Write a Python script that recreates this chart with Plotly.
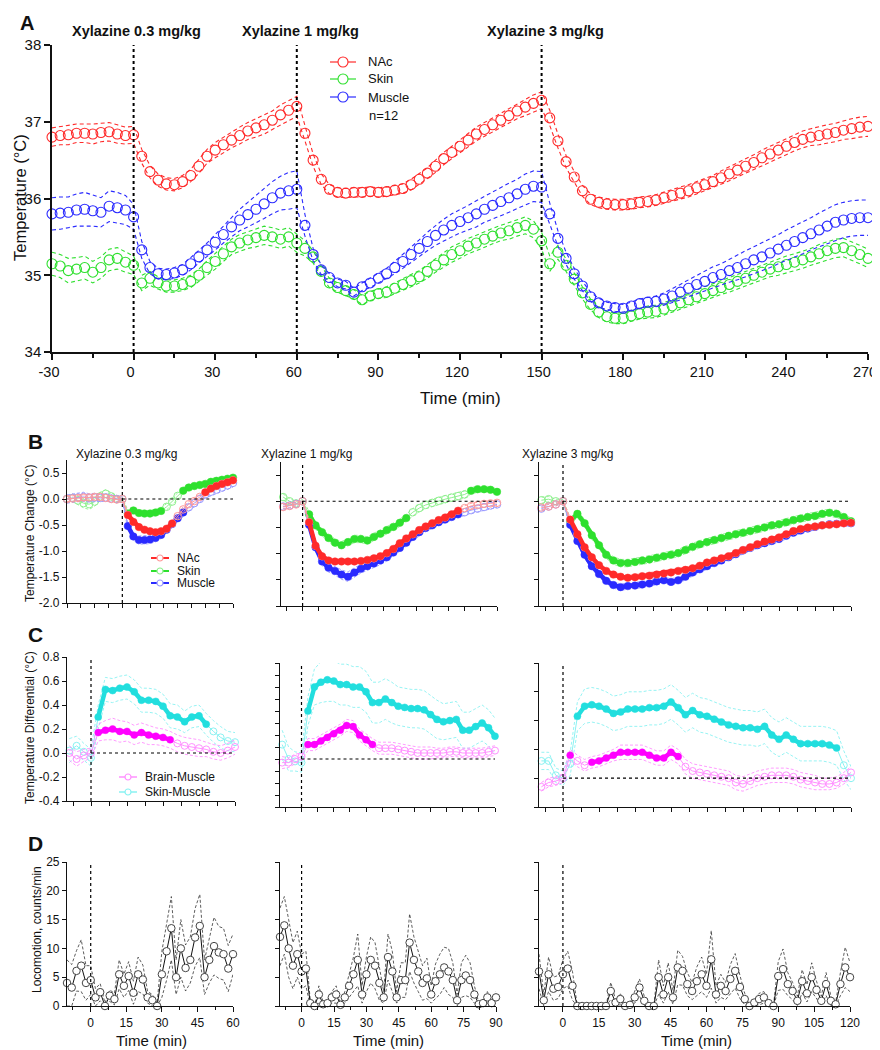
import plotly.graph_objects as go

# The page body adds an 8 px margin, so the figure starts 8 px inside the
# window; all pixel positions below are window pixels
# and are shifted by that offset. The figure is as large as the window, so its
# last 8 px (blank) fall outside the photographed area.
OFF = 8
W, H = 880, 1050
FONT = "Liberation Sans, Arial, Helvetica, sans-serif"

# ======================= DATA =======================
dose_labels = ["Xylazine 0.3 mg/kg", "Xylazine 1 mg/kg", "Xylazine 3 mg/kg"]
dose_times_a = [0, 60, 150]

# ---- Panel A: absolute temperatures (°C), every 3 min ----
a_time = list(range(-30, 271, 3))
a_nac = [36.80, 36.82, 36.83, 36.85, 36.85, 36.84, 36.86, 36.87, 36.84, 36.82, 36.83,
         36.55, 36.35, 36.24, 36.19, 36.18, 36.22, 36.30, 36.42, 36.55, 36.63,
         36.70, 36.76, 36.82, 36.88, 36.92, 36.96, 37.02, 37.09, 37.15, 37.20,
         36.85, 36.50, 36.25, 36.12, 36.08, 36.07, 36.08, 36.08, 36.09, 36.08,
         36.09, 36.11, 36.13, 36.18, 36.25, 36.33, 36.42, 36.52, 36.60, 36.68,
         36.76, 36.84, 36.90, 36.96, 37.02, 37.08, 37.14, 37.19, 37.24, 37.28,
         37.05, 36.75, 36.48, 36.28, 36.10, 35.99, 35.95, 35.93, 35.92, 35.92,
         35.93, 35.95, 35.96, 35.98, 36.01, 36.04, 36.07, 36.10, 36.14, 36.18,
         36.22, 36.27, 36.32, 36.37, 36.42, 36.47, 36.53, 36.58, 36.63, 36.68,
         36.73, 36.77, 36.80, 36.82, 36.84, 36.86, 36.89, 36.91, 36.93, 36.94]
a_muscle = [35.80, 35.81, 35.82, 35.85, 35.86, 35.84, 35.82, 35.90, 35.88, 35.85, 35.76,
            35.33, 35.10, 35.02, 35.01, 35.03, 35.07, 35.15, 35.24, 35.33, 35.43,
            35.53, 35.63, 35.72, 35.79, 35.86, 35.93, 36.01, 36.07, 36.10, 36.12,
            35.65, 35.27, 35.07, 34.97, 34.90, 34.87, 34.78, 34.85, 34.90, 34.96,
            35.02, 35.10, 35.18, 35.27, 35.35, 35.44, 35.52, 35.59, 35.65, 35.70,
            35.75, 35.80, 35.86, 35.91, 35.96, 36.01, 36.06, 36.12, 36.16, 36.15,
            35.80, 35.48, 35.22, 35.02, 34.86, 34.72, 34.64, 34.60, 34.58, 34.57,
            34.60, 34.63, 34.65, 34.66, 34.69, 34.73, 34.78, 34.83, 34.88, 34.92,
            34.97, 35.01, 35.06, 35.10, 35.15, 35.20, 35.24, 35.29, 35.34, 35.39,
            35.44, 35.49, 35.54, 35.59, 35.64, 35.69, 35.72, 35.74, 35.75, 35.75]
a_skin = [35.15, 35.12, 35.06, 35.08, 35.10, 35.04, 35.10, 35.20, 35.22, 35.17, 35.13,
          34.90, 34.96, 34.90, 34.86, 34.86, 34.88, 34.92, 35.00, 35.10, 35.18,
          35.28, 35.37, 35.42, 35.46, 35.49, 35.52, 35.50, 35.47, 35.50, 35.42,
          35.35, 35.24, 35.05, 34.90, 34.84, 34.80, 34.75, 34.68, 34.73, 34.76,
          34.78, 34.83, 34.88, 34.93, 34.98, 35.05, 35.13, 35.20, 35.27, 35.32,
          35.38, 35.42, 35.47, 35.51, 35.55, 35.58, 35.62, 35.65, 35.60, 35.45,
          35.15, 35.30, 35.13, 34.95, 34.77, 34.62, 34.52, 34.46, 34.44, 34.44,
          34.47, 34.50, 34.52, 34.53, 34.56, 34.60, 34.64, 34.68, 34.72, 34.76,
          34.80, 34.84, 34.88, 34.92, 34.96, 35.00, 35.04, 35.08, 35.11, 35.14,
          35.17, 35.20, 35.24, 35.28, 35.32, 35.35, 35.36, 35.32, 35.27, 35.22]
a_nac_sem = [0.12, 0.12, 0.13, 0.12, 0.12, 0.13, 0.12, 0.12, 0.12, 0.11, 0.11,
             0.09, 0.08, 0.08, 0.08, 0.08, 0.08, 0.08, 0.09, 0.09, 0.10,
             0.10, 0.10, 0.11, 0.11, 0.12, 0.12, 0.12, 0.13, 0.13, 0.13,
             0.10, 0.08, 0.07, 0.06, 0.06, 0.06, 0.06, 0.06, 0.06, 0.06,
             0.06, 0.06, 0.06, 0.07, 0.07, 0.07, 0.08, 0.08, 0.08, 0.08,
             0.08, 0.09, 0.09, 0.09, 0.10, 0.10, 0.10, 0.11, 0.11, 0.11,
             0.10, 0.09, 0.08, 0.07, 0.07, 0.07, 0.07, 0.07, 0.07, 0.07,
             0.07, 0.07, 0.07, 0.07, 0.07, 0.07, 0.08, 0.08, 0.08, 0.08,
             0.08, 0.09, 0.09, 0.09, 0.09, 0.10, 0.10, 0.10, 0.10, 0.11,
             0.11, 0.11, 0.11, 0.12, 0.12, 0.12, 0.12, 0.13, 0.13, 0.13]
a_muscle_sem = [0.21, 0.21, 0.20, 0.21, 0.22, 0.20, 0.19, 0.20, 0.20, 0.19, 0.16,
                0.11, 0.08, 0.07, 0.07, 0.07, 0.07, 0.08, 0.08, 0.09, 0.10,
                0.11, 0.13, 0.14, 0.16, 0.18, 0.19, 0.21, 0.22, 0.24, 0.24,
                0.14, 0.08, 0.06, 0.05, 0.05, 0.05, 0.05, 0.05, 0.06, 0.06,
                0.07, 0.08, 0.09, 0.10, 0.11, 0.12, 0.13, 0.14, 0.15, 0.15,
                0.16, 0.17, 0.17, 0.18, 0.18, 0.19, 0.19, 0.20, 0.20, 0.20,
                0.14, 0.10, 0.08, 0.07, 0.06, 0.06, 0.06, 0.05, 0.05, 0.05,
                0.05, 0.06, 0.06, 0.07, 0.08, 0.09, 0.10, 0.11, 0.12, 0.13,
                0.14, 0.14, 0.15, 0.16, 0.17, 0.17, 0.18, 0.19, 0.19, 0.20,
                0.20, 0.21, 0.21, 0.22, 0.22, 0.23, 0.23, 0.23, 0.23, 0.23]
a_skin_sem = [0.15, 0.15, 0.16, 0.15, 0.15, 0.14, 0.14, 0.14, 0.14, 0.13, 0.12,
              0.10, 0.09, 0.08, 0.08, 0.08, 0.08, 0.08, 0.08, 0.09, 0.10,
              0.10, 0.10, 0.11, 0.11, 0.12, 0.12, 0.12, 0.12, 0.12, 0.12,
              0.10, 0.08, 0.07, 0.06, 0.06, 0.06, 0.06, 0.06, 0.06, 0.06,
              0.07, 0.07, 0.08, 0.08, 0.08, 0.09, 0.09, 0.09, 0.10, 0.10,
              0.10, 0.10, 0.10, 0.10, 0.10, 0.11, 0.11, 0.11, 0.11, 0.11,
              0.10, 0.09, 0.08, 0.08, 0.08, 0.07, 0.07, 0.07, 0.07, 0.07,
              0.07, 0.07, 0.08, 0.08, 0.08, 0.08, 0.08, 0.09, 0.09, 0.09,
              0.09, 0.09, 0.10, 0.10, 0.10, 0.10, 0.10, 0.10, 0.11, 0.11,
              0.11, 0.11, 0.11, 0.12, 0.12, 0.12, 0.12, 0.12, 0.12, 0.12]

# ---- Panel B: temperature change (°C) ----
b1_time = list(range(-30, 61, 3))
b1_nac = [0.00, 0.01, 0.02, 0.03, 0.03, 0.04, 0.04, 0.02, 0.00, -0.01, 0.00,
          -0.31, -0.44, -0.54, -0.59, -0.62, -0.64, -0.62, -0.57, -0.47, -0.33,
          -0.20, -0.10, -0.04, 0.04, 0.13, 0.20, 0.25, 0.29, 0.32, 0.36]
b1_nac_sem = [0.05, 0.05, 0.06, 0.05, 0.05, 0.05, 0.05, 0.05, 0.04, 0.04, 0.03,
              0.04, 0.04, 0.05, 0.05, 0.05, 0.05, 0.05, 0.05, 0.05, 0.05,
              0.05, 0.05, 0.05, 0.05, 0.06, 0.06, 0.06, 0.06, 0.06, 0.06]
b1_mus = [0.00, 0.02, 0.03, 0.04, 0.02, 0.03, 0.02, 0.03, 0.01, 0.00, 0.00,
          -0.52, -0.72, -0.79, -0.79, -0.78, -0.75, -0.69, -0.59, -0.48, -0.37,
          -0.26, -0.16, -0.08, 0.00, 0.09, 0.14, 0.18, 0.22, 0.26, 0.31]
b1_mus_sem = [0.08, 0.08, 0.08, 0.09, 0.08, 0.08, 0.07, 0.07, 0.06, 0.05, 0.04,
              0.06, 0.07, 0.08, 0.08, 0.08, 0.07, 0.07, 0.07, 0.07, 0.07,
              0.07, 0.07, 0.07, 0.07, 0.07, 0.08, 0.08, 0.08, 0.08, 0.08]
b1_skin = [0.00, 0.02, -0.03, -0.08, -0.10, -0.05, 0.05, 0.10, 0.05, 0.00, 0.00,
           -0.28, -0.22, -0.27, -0.28, -0.28, -0.26, -0.23, -0.15, -0.05, 0.06,
           0.16, 0.22, 0.25, 0.27, 0.29, 0.33, 0.35, 0.37, 0.39, 0.41]
b1_skin_sem = [0.06, 0.07, 0.08, 0.09, 0.10, 0.09, 0.08, 0.08, 0.07, 0.05, 0.04,
               0.06, 0.06, 0.06, 0.06, 0.06, 0.06, 0.06, 0.06, 0.06, 0.06,
               0.06, 0.06, 0.06, 0.06, 0.06, 0.06, 0.06, 0.06, 0.06, 0.06]
b1_sig = {"nac": [(3, 27), (45, 60)], "mus": [(3, 33)], "skin": [(3, 21), (33, 60)]}

b2_time = list(range(-9, 91, 3))
b2_nac = [-0.11, -0.09, -0.06, 0.00,
          -0.40, -0.85, -1.05, -1.13, -1.15, -1.15, -1.15, -1.15, -1.14, -1.12,
          -1.09, -1.05, -0.99, -0.91, -0.80, -0.71, -0.63, -0.55, -0.48, -0.42,
          -0.36, -0.31, -0.25, -0.18, -0.13, -0.09, -0.07, -0.05, -0.04, -0.03]
b2_nac_sem = [0.04, 0.04, 0.03, 0.02,
              0.05, 0.05, 0.05, 0.05, 0.05, 0.05, 0.05, 0.05, 0.05, 0.05,
              0.05, 0.05, 0.05, 0.05, 0.05, 0.05, 0.05, 0.05, 0.05, 0.05,
              0.05, 0.05, 0.05, 0.05, 0.05, 0.05, 0.05, 0.05, 0.05, 0.05]
b2_mus = [-0.10, -0.08, -0.05, 0.00,
          -0.45, -0.88, -1.15, -1.27, -1.33, -1.40, -1.44, -1.36, -1.29, -1.24,
          -1.19, -1.13, -1.07, -0.98, -0.89, -0.79, -0.68, -0.59, -0.51, -0.46,
          -0.40, -0.35, -0.30, -0.25, -0.21, -0.17, -0.14, -0.11, -0.08, -0.06]
b2_mus_sem = [0.04, 0.04, 0.03, 0.02,
              0.06, 0.07, 0.08, 0.08, 0.08, 0.09, 0.09, 0.09, 0.08, 0.08,
              0.08, 0.08, 0.07, 0.07, 0.07, 0.07, 0.07, 0.07, 0.07, 0.06,
              0.06, 0.06, 0.06, 0.06, 0.06, 0.06, 0.06, 0.06, 0.06, 0.06]
b2_skin = [0.08, 0.00, -0.04, 0.00,
           -0.25, -0.46, -0.59, -0.70, -0.79, -0.84, -0.78, -0.72, -0.72, -0.75,
           -0.68, -0.62, -0.55, -0.49, -0.41, -0.32, -0.21, -0.13, -0.07, -0.03,
           0.01, 0.04, 0.07, 0.10, 0.13, 0.20, 0.23, 0.23, 0.22, 0.18]
b2_skin_sem = [0.06, 0.05, 0.04, 0.03,
               0.06, 0.07, 0.07, 0.07, 0.07, 0.07, 0.07, 0.07, 0.07, 0.07,
               0.07, 0.07, 0.07, 0.07, 0.07, 0.07, 0.07, 0.07, 0.07, 0.07,
               0.07, 0.07, 0.07, 0.07, 0.07, 0.06, 0.06, 0.06, 0.06, 0.06]
b2_sig = {"nac": [(3, 72)], "mus": [(3, 72)], "skin": [(3, 48), (78, 90)]}

b3_time = list(range(-9, 121, 3))
b3_nac = [-0.12, -0.10, -0.06, 0.00,
          -0.35, -0.63, -0.88, -1.07, -1.22, -1.33, -1.40, -1.44, -1.46, -1.45,
          -1.43, -1.42, -1.40, -1.38, -1.36, -1.33, -1.31, -1.28, -1.23, -1.17,
          -1.13, -1.09, -1.05, -0.99, -0.93, -0.88, -0.82, -0.77, -0.73, -0.69,
          -0.63, -0.57, -0.53, -0.50, -0.48, -0.46, -0.45, -0.44, -0.42, -0.41]
b3_nac_sem = [0.04, 0.04, 0.03, 0.02,
              0.04, 0.05, 0.05, 0.05, 0.05, 0.05, 0.05, 0.05, 0.05, 0.05,
              0.05, 0.05, 0.05, 0.05, 0.05, 0.05, 0.05, 0.05, 0.05, 0.05,
              0.05, 0.05, 0.05, 0.05, 0.05, 0.05, 0.05, 0.05, 0.05, 0.05,
              0.05, 0.05, 0.05, 0.05, 0.05, 0.05, 0.05, 0.05, 0.05, 0.05]
b3_mus = [-0.14, -0.10, -0.06, 0.00,
          -0.45, -0.76, -1.02, -1.24, -1.39, -1.52, -1.60, -1.64, -1.62, -1.61,
          -1.59, -1.57, -1.53, -1.51, -1.54, -1.51, -1.44, -1.36, -1.30, -1.24,
          -1.18, -1.13, -1.07, -1.01, -0.94, -0.89, -0.84, -0.80, -0.76, -0.72,
          -0.66, -0.60, -0.56, -0.52, -0.49, -0.46, -0.44, -0.43, -0.42, -0.42]
b3_mus_sem = [0.04, 0.04, 0.03, 0.02,
              0.05, 0.06, 0.06, 0.06, 0.06, 0.06, 0.06, 0.06, 0.06, 0.06,
              0.06, 0.06, 0.06, 0.06, 0.06, 0.06, 0.06, 0.06, 0.06, 0.06,
              0.06, 0.06, 0.06, 0.06, 0.06, 0.06, 0.06, 0.06, 0.06, 0.06,
              0.06, 0.06, 0.06, 0.06, 0.06, 0.05, 0.05, 0.05, 0.05, 0.05]
b3_skin = [0.02, 0.04, 0.00, 0.00,
           -0.38, -0.24, -0.42, -0.65, -0.84, -1.02, -1.13, -1.18, -1.18, -1.16,
           -1.13, -1.11, -1.08, -1.05, -1.02, -0.99, -0.93, -0.87, -0.82, -0.78,
           -0.74, -0.70, -0.66, -0.63, -0.60, -0.57, -0.53, -0.50, -0.46, -0.44,
           -0.40, -0.36, -0.33, -0.30, -0.28, -0.24, -0.22, -0.24, -0.30, -0.38]
b3_skin_sem = [0.06, 0.05, 0.04, 0.03,
               0.06, 0.07, 0.07, 0.07, 0.07, 0.07, 0.07, 0.07, 0.07, 0.07,
               0.07, 0.07, 0.07, 0.07, 0.07, 0.07, 0.07, 0.07, 0.07, 0.07,
               0.07, 0.07, 0.07, 0.07, 0.07, 0.07, 0.07, 0.07, 0.07, 0.07,
               0.07, 0.07, 0.07, 0.07, 0.07, 0.07, 0.07, 0.07, 0.06, 0.06]
b3_sig = {"nac": [(3, 120)], "mus": [(3, 120)], "skin": [(3, 120)]}

# ---- Panel C: temperature differentials (°C) ----
c1_time = list(range(-9, 61, 3))
c1_bm = [0.00, -0.05, -0.02, 0.00,
         0.17, 0.19, 0.20, 0.18, 0.18, 0.15, 0.17, 0.15, 0.14, 0.13,
         0.11, 0.08, 0.06, 0.05, 0.04, 0.03, 0.01, 0.00, 0.02, 0.05]
c1_bm_sem = [0.06, 0.06, 0.05, 0.04,
             0.07, 0.08, 0.09, 0.09, 0.08, 0.08, 0.08, 0.08, 0.07, 0.07,
             0.07, 0.07, 0.07, 0.07, 0.07, 0.06, 0.06, 0.06, 0.06, 0.06]
c1_sm = [0.02, 0.06, 0.01, -0.04,
         0.30, 0.53, 0.52, 0.54, 0.55, 0.51, 0.44, 0.44, 0.43, 0.39,
         0.31, 0.30, 0.26, 0.30, 0.31, 0.24, 0.18, 0.13, 0.10, 0.09]
c1_sm_sem = [0.10, 0.08, 0.07, 0.07,
             0.10, 0.10, 0.10, 0.10, 0.10, 0.10, 0.10, 0.10, 0.10, 0.10,
             0.10, 0.10, 0.09, 0.09, 0.09, 0.09, 0.09, 0.09, 0.08, 0.08]
c1_sig = {"bm": [(3, 33)], "sm": [(3, 48)]}

c2_time = list(range(-9, 91, 3))
c2_bm = [-0.03, -0.03, 0.00, 0.02,
         0.12, 0.12, 0.15, 0.18, 0.21, 0.24, 0.28, 0.27, 0.20, 0.16,
         0.12, 0.09, 0.09, 0.09, 0.08, 0.07, 0.06, 0.05, 0.05, 0.05,
         0.05, 0.05, 0.06, 0.06, 0.05, 0.05, 0.05, 0.05, 0.06, 0.07]
c2_bm_sem = [0.05, 0.04, 0.04, 0.03,
             0.05, 0.05, 0.05, 0.05, 0.05, 0.05, 0.05, 0.05, 0.05, 0.05,
             0.05, 0.05, 0.05, 0.05, 0.05, 0.05, 0.05, 0.05, 0.05, 0.05,
             0.04, 0.04, 0.04, 0.04, 0.04, 0.04, 0.04, 0.04, 0.04, 0.04]
c2_sm = [0.12, 0.00, -0.02, -0.03,
         0.40, 0.60, 0.64, 0.66, 0.65, 0.62, 0.62, 0.60, 0.60, 0.56,
         0.47, 0.47, 0.50, 0.47, 0.44, 0.43, 0.42, 0.42, 0.41, 0.37,
         0.33, 0.31, 0.32, 0.33, 0.24, 0.24, 0.27, 0.30, 0.26, 0.19]
c2_sm_sem = [0.12, 0.10, 0.08, 0.08,
             0.12, 0.15, 0.17, 0.18, 0.17, 0.17, 0.17, 0.17, 0.17, 0.17,
             0.17, 0.17, 0.17, 0.17, 0.16, 0.16, 0.16, 0.16, 0.16, 0.16,
             0.16, 0.15, 0.15, 0.15, 0.15, 0.15, 0.15, 0.15, 0.15, 0.15]
c2_sig = {"bm": [(3, 33)], "sm": [(3, 90)]}

c3_time = list(range(-9, 121, 3))
c3_bm = [-0.06, -0.03, -0.02, 0.00,
         0.16, 0.12, 0.09, 0.11, 0.12, 0.14, 0.16, 0.18, 0.18, 0.18,
         0.18, 0.16, 0.14, 0.14, 0.18, 0.15, 0.08, 0.05, 0.04, 0.03,
         0.02, 0.01, 0.00, -0.03, -0.04, -0.02, 0.00, 0.01, 0.02, 0.02,
         0.02, 0.01, -0.01, -0.02, -0.03, -0.04, -0.04, -0.03, 0.00, 0.04]
c3_bm_sem = [0.03, 0.03, 0.03, 0.03,
             0.04, 0.04, 0.04, 0.04, 0.04, 0.04, 0.04, 0.05, 0.05, 0.05,
             0.05, 0.05, 0.05, 0.05, 0.05, 0.05, 0.05, 0.05, 0.05, 0.05,
             0.05, 0.05, 0.05, 0.05, 0.05, 0.05, 0.05, 0.05, 0.05, 0.05,
             0.05, 0.05, 0.05, 0.05, 0.05, 0.04, 0.04, 0.04, 0.04, 0.04]
c3_sm = [0.12, 0.12, 0.02, 0.00,
         0.10, 0.43, 0.50, 0.51, 0.50, 0.48, 0.45, 0.46, 0.48, 0.48,
         0.48, 0.49, 0.49, 0.50, 0.53, 0.49, 0.44, 0.47, 0.44, 0.43,
         0.41, 0.39, 0.37, 0.36, 0.35, 0.35, 0.34, 0.36, 0.30, 0.27,
         0.30, 0.27, 0.24, 0.24, 0.24, 0.24, 0.23, 0.21, 0.09, 0.00]
c3_sm_sem = [0.06, 0.06, 0.05, 0.05,
             0.08, 0.10, 0.12, 0.12, 0.12, 0.12, 0.12, 0.12, 0.12, 0.12,
             0.12, 0.12, 0.12, 0.12, 0.12, 0.12, 0.12, 0.12, 0.12, 0.12,
             0.12, 0.12, 0.12, 0.12, 0.12, 0.12, 0.12, 0.12, 0.12, 0.12,
             0.12, 0.12, 0.12, 0.12, 0.12, 0.12, 0.12, 0.12, 0.10, 0.08]
c3_sig = {"bm": [(3, 3), (12, 48)], "sm": [(6, 114)]}

# ---- Panel D: locomotion (counts/min), every 2 min ----
d1_time = list(range(-10, 61, 2))
d1_mean = [4, 3.2, 6.1, 7, 4, 4.5, 1.5, 2.4, 0, 1.8,
           1.2, 5.5, 3.5, 5.2, 2.3, 5.5, 4.6, 1.5, 1, 0,
           5.5, 9.5, 13.5, 5, 10, 6.6, 8, 11.9, 13.9, 5,
           8, 10.4, 9.3, 9, 6.5, 9]
d1_sem = [4, 4, 3.5, 4.5, 3, 2.5, 1.5, 1.5, 0.5, 1,
          1, 2.5, 2, 2.5, 2, 3, 2.5, 1, 1, 0.5,
          4, 5, 5.5, 3, 5, 4, 4, 5, 5.5, 3,
          4, 5, 4.5, 4.5, 4, 3.5]
d2_time = list(range(-10, 91, 2))
d2_mean = [12, 14, 10, 7, 9, 6, 6.5, 0.5, 0, 2,
           0.3, 0.5, 1.5, 2, 0.2, 1.5, 3.5, 5.5, 8, 2,
           5.5, 8, 7, 4, 1.5, 8.5, 6, 1.5, 4.5, 4.5,
           11, 8, 6, 4, 4.8, 2, 4.3, 5.5, 6.7, 6,
           4.5, 1, 4.5, 5.3, 4.5, 2, 0.3, 0.5, 1.5, 0.5,
           1.5]
d2_sem = [5, 5, 5, 4, 4, 3, 3, 0.5, 0, 1.5,
          0.3, 0.5, 1, 1.5, 0.2, 1, 2, 3, 4.5, 1.5,
          3, 4, 4, 3, 1, 4, 3.5, 1, 3, 3,
          5, 4, 3.5, 3, 3.5, 1.5, 3, 3.5, 3.5, 4,
          3, 1, 3, 3.5, 3, 1.5, 0.3, 0.5, 1, 0.5,
          1]
d3_time = list(range(-10, 121, 2))
d3_mean = [6, 1, 5.5, 3, 3.3, 5.5, 6.5, 3.5, 0, 0,
           0, 0, 0, 0, 0, 2.6, 0.6, 1.2, 0, 0.2,
           1.5, 3.2, 0.9, 0, 0, 5, 2, 5, 1.5, 6.7,
           6.1, 3.8, 2.6, 4.3, 5.5, 3.5, 8.1, 2, 3.5, 2.6,
           4.7, 6.1, 3.3, 1.2, 0, 0.6, 1.2, 1.5, 0.5, 0,
           5.2, 6.4, 3.8, 2.6, 0.9, 4.3, 2.2, 5, 2.8, 0.9,
           3.8, 0.9, 0.3, 3.8, 6.7, 5]
d3_sem = [3, 1, 3, 2, 2, 2.5, 3, 2.5, 0, 0,
          0, 0, 0, 0, 0, 1.5, 0.5, 1, 0, 0.2,
          1, 1.5, 0.8, 0, 0, 3, 1.5, 2.5, 1.2, 3,
          2.5, 2, 1.5, 2.5, 3, 2, 5, 1.5, 2, 1.5,
          2.5, 3, 2, 1, 0, 0.5, 1, 1, 0.5, 0,
          2.5, 3.5, 2, 1.5, 0.8, 2, 1.5, 2.5, 1.5, 0.8,
          2, 0.8, 0.3, 2, 3.5, 2.5]

# tick labels
a_xticks = [-30, 0, 30, 60, 90, 120, 150, 180, 210, 240, 270]
a_yticks = [34, 35, 36, 37, 38]
b_yticks = [-2.0, -1.5, -1.0, -0.5, 0.0, 0.5]
b_yticktext = ["-2.0", "-1.5", "-1.0", "-0.5", "0.0", "0.5"]
c_yticks = [-0.4, -0.2, 0.0, 0.2, 0.4, 0.6, 0.8]
c_yticktext = ["-0.4", "-0.2", "0.0", "0.2", "0.4", "0.6", "0.8"]
d_yticks = [0, 5, 10, 15, 20, 25]
d_xticks = [[0, 15, 30, 45, 60], [0, 15, 30, 45, 60, 75, 90],
            [0, 15, 30, 45, 60, 75, 90, 105, 120]]

# ======================= STYLE / LAYOUT =======================
RED, GREEN, BLUE = "#ff2a2a", "#2ee02e", "#2a2aff"
RED_L, GREEN_L, BLUE_L = "#ff9a9a", "#8ef08e", "#9a9aff"
MAG, CYAN = "#ff00ff", "#22dede"
MAG_L, CYAN_L = "#ff90ff", "#8af2f2"
INK = "#111111"

# pixel boxes in window pixels (left, right, top, bottom)
BOX = {
    1: (52, 868, 45, 352),
    2: (67, 233, 460, 603), 3: (281, 497, 462, 606), 4: (539, 851, 462, 606),
    5: (67, 235, 657, 801), 6: (280, 495, 663, 807), 7: (539, 851, 663, 807),
    8: (67, 233, 862, 1006), 9: (280, 496, 862, 1006), 10: (539, 850, 862, 1006),
}


def fx(x):
    return (x - OFF) / W


def fy(y):
    return 1 - (y - OFF) / H


fig = go.Figure()
layout_axes = {}


def ids(i):
    return ("x" if i == 1 else f"x{i}"), ("y" if i == 1 else f"y{i}")


def keys(i):
    return ("xaxis" if i == 1 else f"xaxis{i}"), ("yaxis" if i == 1 else f"yaxis{i}")


def base_axis(fs=12, lw=1.2):
    return dict(showgrid=False, zeroline=False, showline=True, linecolor=INK,
                linewidth=lw, ticks="outside", tickcolor=INK, tickwidth=lw, ticklen=5,
                tickfont=dict(family=FONT, size=fs, color=INK), fixedrange=True,
                automargin=False, ticklabeloverflow="allow")


def make_axes(i, xr, yr, xopt, yopt, fs=12, lw=1.2):
    x0, x1, y0, y1 = BOX[i]
    xa, ya = ids(i)
    xk, yk = keys(i)
    xd = base_axis(fs, lw); xd.update(domain=[fx(x0), fx(x1)], range=xr, anchor=ya); xd.update(xopt)
    yd = base_axis(fs, lw); yd.update(domain=[fy(y1), fy(y0)], range=yr, anchor=xa); yd.update(yopt)
    layout_axes[xk] = xd
    layout_axes[yk] = yd


def frange(a, b, step):
    out, v = [], a
    while v <= b + 1e-9:
        out.append(round(v, 4))
        v += step
    return out


# Panel A axes
make_axes(1, [-30, 270], [34, 38],
          dict(tickvals=a_xticks, ticktext=[str(v) for v in a_xticks], ticklen=6,
               ticklabelshift=-3, tickfont=dict(family=FONT, size=14.5, color=INK),
               minor=dict(tickvals=frange(-15, 255, 30), ticklen=4, ticks="outside", tickcolor=INK, tickwidth=1.5)),
          dict(tickvals=a_yticks, ticklen=6), fs=15, lw=1.5)
# Panel B axes
b_ranges = {2: [-30, 60], 3: [-10, 90], 4: [-10, 120]}
for i, xr in b_ranges.items():
    make_axes(i, xr, [-2.0, 0.75],
              dict(tickvals=frange(xr[0], xr[1], 7.5) if i == 2 else frange(-7.5, xr[1], 7.5),
                   showticklabels=False, ticklen=4),
              dict(tickvals=b_yticks, ticktext=b_yticktext, showticklabels=(i == 2), ticklen=4))
# Panel C axes
c_ranges = {5: ([-10, 60], [-0.4, 0.8]), 6: ([-10, 90], [-0.4, 0.8]), 7: ([-10, 120], [-0.2, 0.8])}
for i, (xr, yr) in c_ranges.items():
    yt = c_yticks if i != 6 else frange(-0.4, 0.8, 0.1)
    make_axes(i, xr, yr,
              dict(tickvals=frange(-7.5, xr[1], 7.5), showticklabels=False, ticklen=4),
              dict(tickvals=[v for v in yt if v >= yr[0] - 1e-9],
                   ticktext=[c_yticktext[c_yticks.index(v)] if v in c_yticks else "" for v in yt if v >= yr[0] - 1e-9],
                   showticklabels=(i == 5), ticklen=4))
# Panel D axes
d_ranges = {8: [-10, 60], 9: [-10, 90], 10: [-10, 120]}
for k, (i, xr) in enumerate(d_ranges.items()):
    make_axes(i, xr, [0, 25],
              dict(tickvals=d_xticks[k], ticklen=5,
                   minor=dict(tickvals=frange(-7.5, xr[1], 7.5), ticklen=3, ticks="outside", tickcolor=INK)),
              dict(tickvals=d_yticks, showticklabels=(i == 8), ticklen=4))

# overlay axis in window-pixel space for legend glyphs
layout_axes["xaxis11"] = dict(domain=[0, 1], range=[OFF, W + OFF], visible=False, fixedrange=True, anchor="y11")
layout_axes["yaxis11"] = dict(domain=[0, 1], range=[H + OFF, OFF], visible=False, fixedrange=True, anchor="x11")


def band_traces(i, t, mean, sem, color, width, dash, clip0=False):
    xa, ya = ids(i)
    up = [m + s for m, s in zip(mean, sem)]
    lo = [max(m - s, 0) if clip0 else m - s for m, s in zip(mean, sem)]
    for band in (up, lo):
        fig.add_trace(go.Scatter(x=t, y=band, mode="lines", xaxis=xa, yaxis=ya,
                                 line=dict(color=color, width=width, dash=dash),
                                 showlegend=False, hoverinfo="skip", cliponaxis=False))


def sig_series(i, t, mean, sem, col, light, sig, size=7.5):
    xa, ya = ids(i)
    band_traces(i, t, mean, sem, light, 0.9, "3px,2px")
    mask = [any(a <= v <= b for a, b in sig) for v in t]
    fig.add_trace(go.Scatter(
        x=t, y=mean, mode="lines+markers", xaxis=xa, yaxis=ya,
        line=dict(color=light, width=1),
        marker=dict(size=size, symbol="circle", color="rgba(255,255,255,0)",
                    line=dict(color=light, width=1)),
        showlegend=False, hoverinfo="skip", cliponaxis=False))
    ysig = [m if s else None for m, s in zip(mean, mask)]
    fig.add_trace(go.Scatter(
        x=t, y=ysig, mode="lines+markers", xaxis=xa, yaxis=ya,
        line=dict(color=col, width=4.5), connectgaps=False,
        marker=dict(size=size, symbol="circle", color=col, line=dict(color=col, width=0)),
        showlegend=False, hoverinfo="skip", cliponaxis=False))


# ---- Panel A traces ----
for mean, sem, col in [(a_skin, a_skin_sem, GREEN), (a_muscle, a_muscle_sem, BLUE), (a_nac, a_nac_sem, RED)]:
    band_traces(1, a_time, mean, sem, col, 1.1, "4px,3px")
    fig.add_trace(go.Scatter(x=a_time, y=mean, mode="markers", xaxis="x", yaxis="y",
                             marker=dict(symbol="circle-open", size=10, color=col, line=dict(width=1.1)),
                             showlegend=False, hoverinfo="skip", cliponaxis=False))

# ---- Panel B traces ----
for i, t, nac, nacs, mus, muss, skin, skins, sig in [
        (2, b1_time, b1_nac, b1_nac_sem, b1_mus, b1_mus_sem, b1_skin, b1_skin_sem, b1_sig),
        (3, b2_time, b2_nac, b2_nac_sem, b2_mus, b2_mus_sem, b2_skin, b2_skin_sem, b2_sig),
        (4, b3_time, b3_nac, b3_nac_sem, b3_mus, b3_mus_sem, b3_skin, b3_skin_sem, b3_sig)]:
    sig_series(i, t, skin, skins, GREEN, GREEN_L, sig["skin"])
    sig_series(i, t, mus, muss, BLUE, BLUE_L, sig["mus"])
    sig_series(i, t, nac, nacs, RED, RED_L, sig["nac"])

# ---- Panel C traces ----
for i, t, bm, bms, sm, sms, sig in [
        (5, c1_time, c1_bm, c1_bm_sem, c1_sm, c1_sm_sem, c1_sig),
        (6, c2_time, c2_bm, c2_bm_sem, c2_sm, c2_sm_sem, c2_sig),
        (7, c3_time, c3_bm, c3_bm_sem, c3_sm, c3_sm_sem, c3_sig)]:
    sig_series(i, t, sm, sms, CYAN, CYAN_L, sig["sm"], size=7)
    sig_series(i, t, bm, bms, MAG, MAG_L, sig["bm"], size=7)

# ---- Panel D traces ----
for i, t, m, s in [(8, d1_time, d1_mean, d1_sem), (9, d2_time, d2_mean, d2_sem), (10, d3_time, d3_mean, d3_sem)]:
    xa, ya = ids(i)
    band_traces(i, t, m, s, "#333333", 0.8, "3px,2px", clip0=True)
    fig.add_trace(go.Scatter(x=t, y=m, mode="lines+markers", xaxis=xa, yaxis=ya,
                             line=dict(color="#111111", width=1),
                             marker=dict(size=7.5, color="white", line=dict(color="#444444", width=1)),
                             showlegend=False, hoverinfo="skip", cliponaxis=False))

# ---- reference lines ----
shapes = []
for t0 in dose_times_a:
    shapes.append(dict(type="line", xref="x", yref="y domain", x0=t0, x1=t0, y0=0, y1=1,
                       line=dict(color="black", width=2, dash="dot")))
for i in range(2, 11):
    xa, ya = ids(i)
    shapes.append(dict(type="line", xref=xa, yref=f"{ya} domain", x0=0, x1=0, y0=0, y1=1,
                       line=dict(color="black", width=1.2, dash="dot")))
for i in range(2, 8):
    xa, ya = ids(i)
    xk, _ = keys(i)
    shapes.append(dict(type="line", xref=xa, yref=ya, x0=0, x1=layout_axes[xk]["range"][1], y0=0, y1=0,
                       line=dict(color="black", width=1.2, dash="dot")))

# ---- legends (window-pixel glyphs) ----
legend_a = [("NAc", RED, 62), ("Skin", GREEN, 79), ("Muscle", BLUE, 97)]
for name, col, yy in legend_a:
    fig.add_trace(go.Scatter(x=[330, 343, 356], y=[yy, yy, yy], mode="lines", xaxis="x11", yaxis="y11",
                             line=dict(color=col, width=1.2), showlegend=False, hoverinfo="skip"))
    fig.add_trace(go.Scatter(x=[343], y=[yy], mode="markers", xaxis="x11", yaxis="y11",
                             marker=dict(symbol="circle", size=10, color="white", line=dict(color=col, width=1.1)),
                             showlegend=False, hoverinfo="skip"))
legend_b = [("NAc", RED, RED_L, 558), ("Skin", GREEN, GREEN_L, 571), ("Muscle", BLUE, BLUE_L, 583)]
for name, col, light, yy in legend_b:
    fig.add_trace(go.Scatter(x=[151, 169], y=[yy, yy], mode="lines", xaxis="x11", yaxis="y11",
                             line=dict(color=col, width=2), showlegend=False, hoverinfo="skip"))
    fig.add_trace(go.Scatter(x=[160], y=[yy], mode="markers", xaxis="x11", yaxis="y11",
                             marker=dict(size=6, color="white", line=dict(color=light, width=1.2)),
                             showlegend=False, hoverinfo="skip"))
legend_c = [("Brain-Muscle", MAG, MAG_L, 777), ("Skin-Muscle", CYAN, CYAN_L, 792)]
for name, col, light, yy in legend_c:
    fig.add_trace(go.Scatter(x=[119, 137], y=[yy, yy], mode="lines", xaxis="x11", yaxis="y11",
                             line=dict(color=light, width=1.5), showlegend=False, hoverinfo="skip"))
    fig.add_trace(go.Scatter(x=[128], y=[yy], mode="markers", xaxis="x11", yaxis="y11",
                             marker=dict(size=6, color="white", line=dict(color=light, width=1.2)),
                             showlegend=False, hoverinfo="skip"))

# ---- annotations ----
anns = []


def ann(text, x, y, size, bold=False, xanchor="center", angle=0):
    anns.append(dict(text=f"<b>{text}</b>" if bold else text, x=fx(x), y=fy(y),
                     xref="paper", yref="paper", xanchor=xanchor, yanchor="middle",
                     showarrow=False, textangle=angle, borderpad=0,
                     font=dict(family=FONT, size=size, color=INK)))


ann("A", 27, 23, 20, bold=True)
ann("B", 36, 441, 21, bold=True)
ann("C", 36, 634, 21, bold=True)
ann("D", 36, 843, 21, bold=True)
for txt, xc in zip(dose_labels, [136, 300, 545]):
    ann(txt, xc, 31, 14.5, bold=True)
for txt, xc in zip(dose_labels, [126, 306, 567]):
    ann(txt, xc, 454, 12)
for name, col, yy in legend_a:
    ann(name, 367, yy, 13, xanchor="left")
ann("n=12", 368, 115, 13, xanchor="left")
for name, col, light, yy in legend_b:
    ann(name, 176, yy, 12, xanchor="left")
for name, col, light, yy in legend_c:
    ann(name, 144, yy, 12, xanchor="left")
ann("Temperature (°C)", 20, 198, 16.5, angle=-90)
ann("Time (min)", 460, 398, 17)
ann("Temperature Change (°C)", 30, 533, 12, angle=-90)
ann("Temperature Differential (°C)", 30, 728, 12, angle=-90)
ann("Locomotion, counts/min", 37, 930, 12, angle=-90)
for xc in [151, 388, 696]:
    ann("Time (min)", xc, 1040, 15)

fig.update_layout(width=W, height=H, autosize=False,
                  margin=dict(l=0, r=0, t=0, b=0, pad=0, autoexpand=False),
                  paper_bgcolor="white", plot_bgcolor="rgba(0,0,0,0)",
                  showlegend=False, shapes=shapes, annotations=anns,
                  font=dict(family=FONT, color=INK), **layout_axes)

fig.write_html("out.html")
